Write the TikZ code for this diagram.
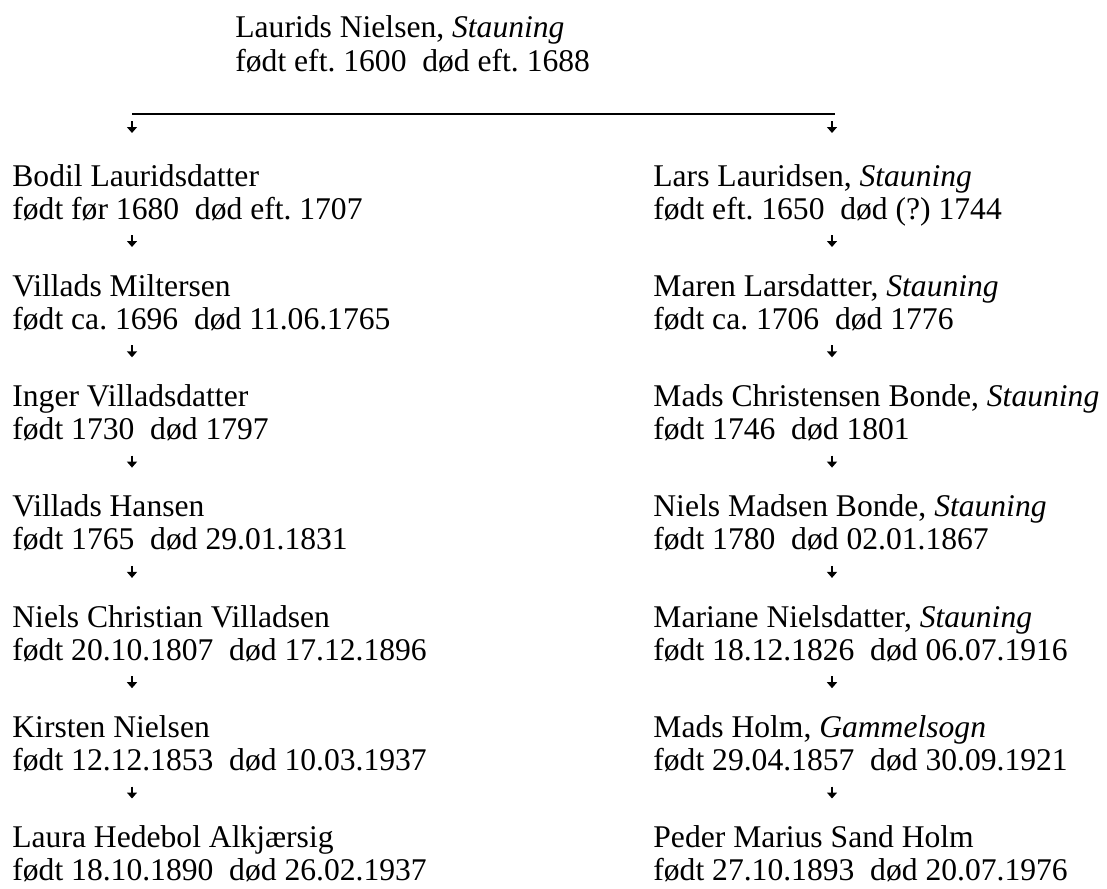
\documentclass[tikz,border=0pt]{standalone}
\usepackage{fontspec}
\setmainfont{Liberation Serif}
\usetikzlibrary{arrows.meta,calc}
\frenchspacing
\begin{document}
\begin{tikzpicture}[x=0.5pt,y=-0.5pt,
  txt/.style={anchor=base west, inner sep=0pt, font=\frenchspacing\fontsize{15.8pt}{17pt}\selectfont},
  arr/.style={line width=0.7pt, -{Triangle[width=5pt,length=3pt]}},
  bar/.style={line width=0.8pt}]
\useasboundingbox (0,0) rectangle (1107,888);
% top ancestor
\node[txt] (topn) at (235,38) {Laurids Nielsen, \textit{Stauning}};
\node[txt] (topd) at (235,72) {født eft. 1600\ \ død eft. 1688};
\coordinate (bL) at (132,114);
\coordinate (bR) at (835,114);
\draw[bar] (bL) -- (bR);
\coordinate (aL) at (132,121);
\coordinate (aR) at (832,121);
\draw[arr] (aL) -- ++(0,12);
\draw[arr] (aR) -- ++(0,12);
% left column
\node[txt] (Ln1) at (12,186)   {Bodil Lauridsdatter};
\node[txt] (Ld1) at (12,219)   {født før 1680\ \ død eft. 1707};
\node[txt] (Ln2) at (12,296.3) {Villads Miltersen};
\node[txt] (Ld2) at (12,329.3) {født ca. 1696\ \ død 11.06.1765};
\node[txt] (Ln3) at (12,406.6) {Inger Villadsdatter};
\node[txt] (Ld3) at (12,439.6) {født 1730\ \ død 1797};
\node[txt] (Ln4) at (12,516.9) {Villads Hansen};
\node[txt] (Ld4) at (12,549.9) {født 1765\ \ død 29.01.1831};
\node[txt] (Ln5) at (12,627.2) {Niels Christian Villadsen};
\node[txt] (Ld5) at (12,660.2) {født 20.10.1807\ \ død 17.12.1896};
\node[txt] (Ln6) at (12,737.5) {Kirsten Nielsen};
\node[txt] (Ld6) at (12,770.5) {født 12.12.1853\ \ død 10.03.1937};
\node[txt] (Ln7) at (12,847.8) {Laura Hedebol Alkjærsig};
\node[txt] (Ld7) at (12,880.8) {født 18.10.1890\ \ død 26.02.1937};
% right column
\node[txt] (Rn1) at (653,186)   {Lars Lauridsen, \textit{Stauning}};
\node[txt] (Rd1) at (653,219)   {født eft. 1650\ \ død (?) 1744};
\node[txt] (Rn2) at (653,296.3) {Maren Larsdatter, \textit{Stauning}};
\node[txt] (Rd2) at (653,329.3) {født ca. 1706\ \ død 1776};
\node[txt] (Rn3) at (653,406.6) {Mads Christensen Bonde, \textit{Stauning}};
\node[txt] (Rd3) at (653,439.6) {født 1746\ \ død 1801};
\node[txt] (Rn4) at (653,516.9) {Niels Madsen Bonde, \textit{Stauning}};
\node[txt] (Rd4) at (653,549.9) {født 1780\ \ død 02.01.1867};
\node[txt] (Rn5) at (653,627.2) {Mariane Nielsdatter, \textit{Stauning}};
\node[txt] (Rd5) at (653,660.2) {født 18.12.1826\ \ død 06.07.1916};
\node[txt] (Rn6) at (653,737.5) {Mads Holm, \textit{Gammelsogn}};
\node[txt] (Rd6) at (653,770.5) {født 29.04.1857\ \ død 30.09.1921};
\node[txt] (Rn7) at (653,847.8) {Peder Marius Sand Holm};
\node[txt] (Rd7) at (653,880.8) {født 27.10.1893\ \ død 20.07.1976};
% arrows between generations
\foreach \i in {1,...,6}{
  \draw[arr] ([xshift=60pt,yshift=-8pt]Ld\i.base west) -- ++(0,12);
  \draw[arr] ([xshift=89.5pt,yshift=-8pt]Rd\i.base west) -- ++(0,12);
}
\end{tikzpicture}
\end{document}
